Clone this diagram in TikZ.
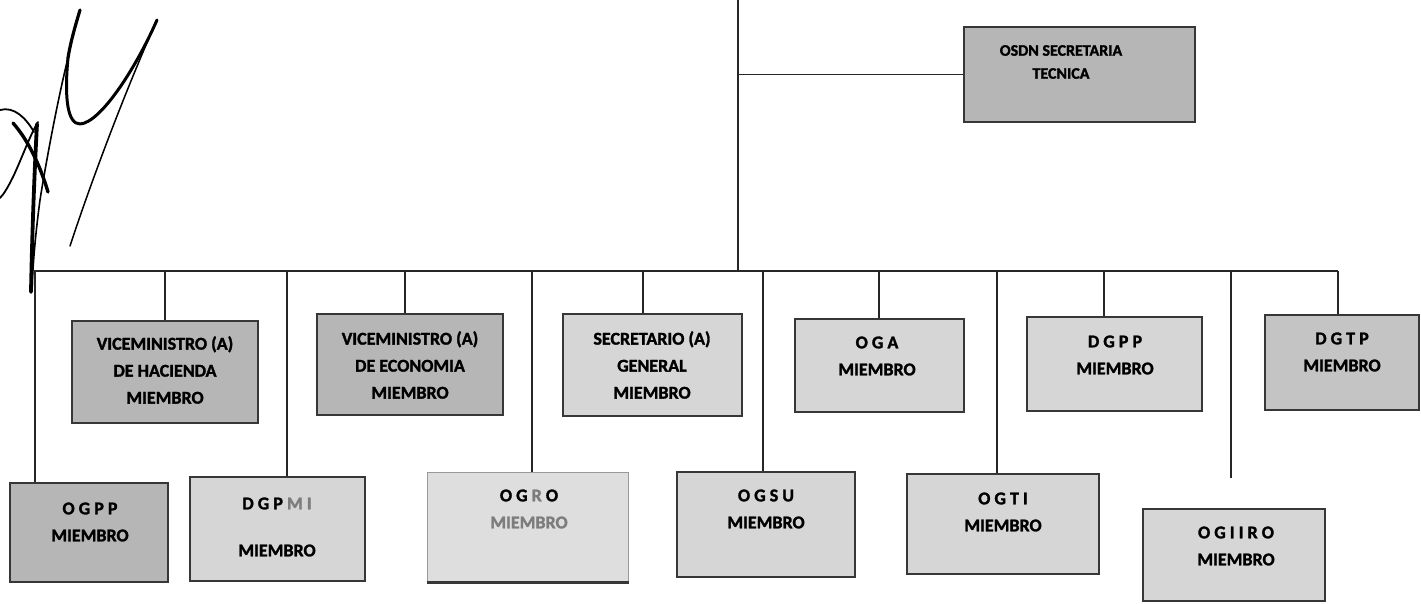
\documentclass[tikz,border=0pt]{standalone}
\usepackage{fontspec}
\setmainfont{Carlito}[BoldFeatures={FakeBold=1.6}]
\definecolor{darkfill}{RGB}{182,182,182}
\definecolor{midfill}{RGB}{196,196,196}
\definecolor{lightfill}{RGB}{214,214,214}
\definecolor{palefill}{RGB}{222,222,222}
\definecolor{boxline}{RGB}{55,55,55}
\definecolor{fadetext}{RGB}{125,125,125}
\begin{document}
\begin{tikzpicture}[x=1pt,y=-1pt,
  box/.style={draw=boxline, line width=1.3pt, inner sep=0pt, anchor=center},
  dbox/.style={box, fill=darkfill},
  mbox/.style={box, fill=midfill},
  lbox/.style={box, fill=lightfill},
  txt/.style={font=\fontsize{18}{27}\selectfont\bfseries, align=center, inner sep=0pt, text=black},
  conn/.style={draw=black!85, line width=1.3pt},
  sig/.style={draw=black, line cap=round, line join=round}]
\clip (0,0) rectangle (1421,603);
\fill[white] (0,0) rectangle (1421,603);

% boxes
\node[dbox, minimum width=231, minimum height=95] (osdn) at (1079.5,74.5) {};
\node[dbox, minimum width=186, minimum height=102] (hac) at (165,372) {};
\node[dbox, minimum width=186, minimum height=101] (eco) at (410,364.5) {};
\node[lbox, minimum width=179, minimum height=102] (sec) at (652.5,365) {};
\node[lbox, minimum width=169, minimum height=93] (oga) at (879.5,365.5) {};
\node[lbox, minimum width=175, minimum height=94] (dgpp) at (1114.5,364) {};
\node[mbox, minimum width=154, minimum height=95] (dgtp) at (1342,362.5) {};
\node[dbox, line width=2.6pt, minimum width=158, minimum height=99] (ogpp) at (89,532.5) {};
\node[lbox, minimum width=175, minimum height=104] (dgpmi) at (277.5,529) {};
\node[box, fill=palefill, draw=black!40, line width=1pt, minimum width=201, minimum height=110] (ogro) at (527.5,527) {};
\node[lbox, minimum width=178, minimum height=105] (ogsu) at (766,524.5) {};
\node[lbox, minimum width=192, minimum height=100] (ogti) at (1003,524) {};
\node[lbox, minimum width=182, minimum height=92] (ogiiro) at (1234,555) {};
\draw[draw=boxline, line width=2.6pt] (ogro.south west) -- (ogro.south east);

% texts
\node[txt, font=\fontsize{16}{23}\selectfont\bfseries] (osdn-t) at (1061,62) {OSDN SECRETARIA\\TECNICA};
\node[txt] (hac-t) at (165,370) {VICEMINISTRO (A)\\DE HACIENDA\\MIEMBRO};
\node[txt] (eco-t) at (410,365) {VICEMINISTRO (A)\\DE ECONOMIA\\MIEMBRO};
\node[txt] (sec-t) at (652,365) {SECRETARIO (A)\\GENERAL\\MIEMBRO};
\node[txt] (oga-t) at (877,356) {O G A\\MIEMBRO};
\node[txt] (dgpp-t) at (1115,355) {D G P P\\MIEMBRO};
\node[txt] (dgtp-t) at (1342,352) {D G T P\\MIEMBRO};
\node[txt] (ogpp-t) at (90,522) {O G P P\\MIEMBRO};
\node[txt] (dgpmi-t) at (277,527) {D G P {\color{fadetext}M I}\\[20pt]MIEMBRO};
\node[txt] (ogro-t) at (529,509) {O G {\color{fadetext}R} O\\{\color{fadetext}MIEMBRO}};
\node[txt] (ogsu-t) at (766,509) {O G S U\\MIEMBRO};
\node[txt] (ogti-t) at (1003,512) {O G T I\\MIEMBRO};
\node[txt] (ogiiro-t) at (1236,546) {O G I I R O\\MIEMBRO};

% trunk and buses
\coordinate (top) at (738,0);
\coordinate (jn) at (738,271);
\coordinate (busL) at (34,271);
\coordinate (busR) at (1338,271);
\draw[conn] (top) -- (jn);
\draw[conn] (top |- osdn.west) -- (osdn.west);
\draw[conn] (busL) -- (busR);

% drops
\coordinate (d1) at (35,271);
\coordinate (d2) at (165,271);
\coordinate (d3) at (287,271);
\coordinate (d4) at (405,271);
\coordinate (d5) at (532,271);
\coordinate (d6) at (643,271);
\coordinate (d7) at (763,271);
\coordinate (d8) at (879,271);
\coordinate (d9) at (997,271);
\coordinate (d10) at (1104,271);
\coordinate (d11) at (1231,271);
\coordinate (d11e) at (1231,478);
\coordinate (d12) at (1338,271);
\draw[conn] (d1) -- (d1 |- ogpp.north);
\draw[conn] (d2) -- (d2 |- hac.north);
\draw[conn] (d3) -- (d3 |- dgpmi.north);
\draw[conn] (d4) -- (d4 |- eco.north);
\draw[conn, line width=1.7pt] (d5) -- (d5 |- ogro.north);
\draw[conn] (d6) -- (d6 |- sec.north);
\draw[conn] (d7) -- (d7 |- ogsu.north);
\draw[conn] (d8) -- (d8 |- oga.north);
\draw[conn] (d9) -- (d9 |- ogti.north);
\draw[conn] (d10) -- (d10 |- dgpp.north);
\draw[conn] (d11) -- (d11e);
\draw[conn] (d12) -- (d12 |- dgtp.north);

% signature
\draw[sig, line width=3.2pt] (80,10) .. controls (74,30) and (70,45) .. (68,58);
\draw[sig, line width=1.6pt] (68,58) .. controls (60,90) and (48,150) .. (40,200) .. controls (36,230) and (33,260) .. (32,290);
\draw[sig, line width=3pt] (68,58) .. controls (64,100) and (68,124) .. (80,124) .. controls (100,123) and (135,70) .. (157,20);
\draw[sig, line width=1.5pt] (157,20) .. controls (130,80) and (95,170) .. (70,246);
\draw[sig, line width=1.8pt] (0,110) .. controls (14,106) and (26,118) .. (34,132);
\draw[sig, line width=3.4pt] (13,123) .. controls (28,140) and (40,165) .. (48,192);
\draw[sig, line width=1.8pt] (38,122) .. controls (30,135) and (22,158) .. (13,177) .. controls (8,187) and (4,194) .. (0,198);
\draw[sig, line width=3.8pt] (37,124) .. controls (34,180) and (32,240) .. (31,292);
\end{tikzpicture}
\end{document}
